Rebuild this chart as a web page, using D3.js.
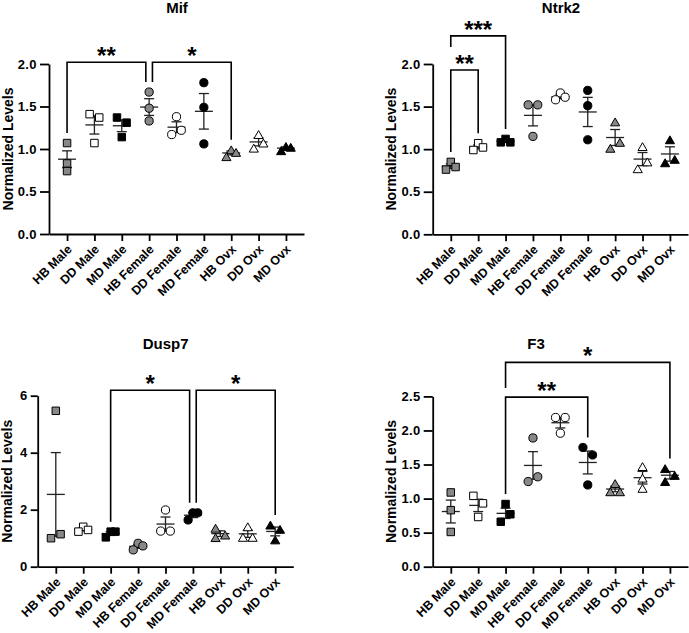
<!DOCTYPE html>
<html>
<head>
<meta charset="utf-8">
<script src="https://cdn.jsdelivr.net/npm/d3@7"></script>
<style>
  body { margin: 0; background: #fff; }
  svg { display: block; }
  text { font-family: "Liberation Sans", Arial, sans-serif; font-weight: bold; fill: #000; }
</style>
</head>
<body>
<div id="chart"></div>
<script>
// groups on the x axis
const groups = ["HB Male", "DD Male", "MD Male", "HB Female", "DD Female", "MD Female", "HB Ovx", "DD Ovx", "MD Ovx"];

// three animals per group, normalized levels
const mifValues = [
  [1.07, 0.83, 0.74], [1.41, 1.37, 1.07], [1.37, 1.31, 1.14],
  [1.67, 1.48, 1.33], [1.38, 1.22, 1.17], [1.78, 1.49, 1.06],
  [0.99, 0.96, 0.91], [1.17, 1.07, 1.01], [1.03, 1.02, 0.98]
];
const ntrk2Values = [
  [0.85, 0.79, 0.76], [1.07, 1.02, 0.99], [1.12, 1.08, 1.08],
  [1.52, 1.52, 1.15], [1.66, 1.61, 1.58], [1.69, 1.51, 1.11],
  [1.32, 1.08, 1.01], [1.03, 0.85, 0.77], [1.11, 0.88, 0.84]
];
const dusp7Values = [
  [5.47, 1.14, 1.00], [1.40, 1.29, 1.23], [1.23, 1.23, 1.03],
  [0.82, 0.73, 0.59], [1.99, 1.25, 1.25], [1.89, 1.89, 1.64],
  [1.35, 1.11, 1.02], [1.40, 1.03, 1.03], [1.46, 1.31, 0.94]
];
const f3Values = [
  [1.09, 0.83, 0.51], [1.04, 0.93, 0.73], [0.92, 0.77, 0.66],
  [1.89, 1.32, 1.25], [2.19, 2.19, 1.96], [1.75, 1.64, 1.20],
  [1.22, 1.10, 1.10], [1.47, 1.30, 1.15], [1.44, 1.34, 1.25]
];

// y tick labels
const tickHalf = [0, 0.5, 1.0, 1.5, 2.0];
const tickDusp7 = [0, 2, 4, 6];
const tickF3 = [0, 0.5, 1.0, 1.5, 2.0, 2.5];

// significance brackets (level in data units)
const mifSig = [
  { from: "HB Male", to: "HB Female", level: 2.02, label: "**" },
  { from: "HB Female", to: "HB Ovx", level: 2.02, label: "*" }
];
const ntrk2Sig = [
  { from: "HB Male", to: "DD Male", level: 1.93, label: "**" },
  { from: "HB Male", to: "MD Male", level: 2.33, label: "***" }
];
const dusp7Sig = [
  { from: "MD Male", to: "MD Female", level: 6.19, label: "*" },
  { from: "MD Female", to: "MD Ovx", level: 6.19, label: "*" }
];
const f3Sig = [
  { from: "MD Male", to: "MD Female", level: 2.49, label: "**" },
  { from: "MD Male", to: "MD Ovx", level: 3.0, label: "*" }
];

// marker style per group
const shapeOf = [d3.symbolSquare, d3.symbolSquare, d3.symbolSquare,
                 d3.symbolCircle, d3.symbolCircle, d3.symbolCircle,
                 d3.symbolTriangle, d3.symbolTriangle, d3.symbolTriangle];
const fillOf = ["#888", "#fff", "#000", "#888", "#fff", "#000", "#888", "#fff", "#000"];

const W = 689, H = 633;
const svg = d3.select("#chart").append("svg").attr("width", W).attr("height", H);

const panels = [
  { title: "Mif", values: mifValues, ticks: tickHalf, fmt: ".1f", sig: mifSig,
    x0: 49, x1: 304, yBottom: 234, yTop: 64, titleX: 177, titleY: 8, labelX: 7.5 },
  { title: "Ntrk2", values: ntrk2Values, ticks: tickHalf, fmt: ".1f", sig: ntrk2Sig,
    x0: 432.7, x1: 688, yBottom: 234.3, yTop: 64, titleX: 561, titleY: 8, labelX: 390.5 },
  { title: "Dusp7", values: dusp7Values, ticks: tickDusp7, fmt: "d", sig: dusp7Sig,
    x0: 37.7, x1: 293.3, yBottom: 566.7, yTop: 395.7, titleX: 165.7, titleY: 343.3, labelX: 6.5 },
  { title: "F3", values: f3Values, ticks: tickF3, fmt: ".1f", sig: f3Sig,
    x0: 432.7, x1: 688, yBottom: 566.7, yTop: 396.4, titleX: 536, titleY: 343.3, labelX: 390.5 }
];

// spread overlapping points sideways, a bit like Prism does
function spread(pys) {
  const step = 4.8, near = 7.5;
  const order = pys.map((p, i) => i).sort((a, b) => pys[a] - pys[b]);
  const clusters = [];
  order.forEach(i => {
    const last = clusters[clusters.length - 1];
    if (last && pys[i] - pys[last[last.length - 1]] < near) last.push(i);
    else clusters.push([i]);
  });
  const off = new Array(pys.length).fill(0);
  clusters.forEach(c => {
    if (c.length === 2) {
      const top = c[0] === order[0];
      off[c[0]] = top ? -step : step;
      off[c[1]] = top ? step : -step;
    } else if (c.length === 3) {
      const span = pys[c[2]] - pys[c[0]];
      const o = span < 9 ? [0, step, -step] : [-step, step, -step];
      c.forEach((i, k) => off[i] = o[k]);
    }
  });
  return off;
}

panels.forEach(p => {
  const maxTick = p.ticks[p.ticks.length - 1];
  const x = d3.scalePoint().domain(groups).range([p.x0, p.x1]).padding(0.66);
  const y = d3.scaleLinear().domain([0, maxTick]).range([p.yBottom, p.yTop]);
  const g = svg.append("g");

  // title
  g.append("text").attr("x", p.titleX).attr("y", p.titleY).attr("dy", "0.36em")
    .attr("text-anchor", "middle").style("font-size", "15px").text(p.title);

  // y label
  g.append("text")
    .attr("transform", `translate(${p.labelX},${(p.yBottom + p.yTop) / 2}) rotate(-90)`)
    .attr("dy", "0.36em").attr("text-anchor", "middle").style("font-size", "14px")
    .text("Normalized Levels");

  // axes
  const ya = g.append("g").attr("transform", `translate(${p.x0},0)`)
    .call(d3.axisLeft(y).tickValues(p.ticks).tickFormat(d3.format(p.fmt))
      .tickSize(p.fmt === "d" ? 7 : 9).tickSizeOuter(0).tickPadding(3));
  const xa = g.append("g").attr("transform", `translate(0,${p.yBottom})`)
    .call(d3.axisBottom(x).tickSize(7).tickSizeOuter(0));
  [ya, xa].forEach(a => {
    a.selectAll("path, line").attr("stroke", "#000").attr("stroke-width", 1.8);
    a.selectAll("text").style("font-size", "13px").attr("fill", "#000")
      .style("font-family", "'Liberation Sans', Arial, sans-serif");
  });
  ya.selectAll(".tick text").style("letter-spacing", "0.4px");
  xa.selectAll(".tick text")
    .style("font-size", "12.5px")
    .attr("x", 0).attr("y", 0).attr("dy", "0.35em")
    .attr("text-anchor", "end")
    .attr("transform", "translate(2,13) rotate(-45)");

  // mean and SEM
  const bars = g.append("g");
  p.values.forEach((vals, gi) => {
    const cx = x(groups[gi]);
    const m = d3.mean(vals);
    const sem = d3.deviation(vals) / Math.sqrt(vals.length);
    const st = l => l.attr("stroke", "#222").attr("stroke-width", 1.3);
    st(bars.append("line").attr("x1", cx - 9).attr("x2", cx + 9).attr("y1", y(m)).attr("y2", y(m)));
    st(bars.append("line").attr("x1", cx).attr("x2", cx).attr("y1", y(m - sem)).attr("y2", y(m + sem)));
    [m - sem, m + sem].forEach(v =>
      st(bars.append("line").attr("x1", cx - 5).attr("x2", cx + 5).attr("y1", y(v)).attr("y2", y(v))));
  });

  // points
  const pts = g.append("g");
  p.values.forEach((vals, gi) => {
    const pys = vals.map(v => y(v));
    const off = spread(pys);
    const type = shapeOf[gi];
    const size = type === d3.symbolTriangle ? 36 : type === d3.symbolCircle ? 53 : 56;
    const shift = type === d3.symbolTriangle ? Math.sqrt(size / (3 * Math.sqrt(3))) / 2 : 0;
    pts.selectAll(null).data(vals).enter().append("path")
      .attr("d", d3.symbol().type(type).size(size))
      .attr("transform", (d, i) => `translate(${x(groups[gi]) + off[i]},${y(d) + shift})`)
      .attr("fill", fillOf[gi]).attr("stroke", "#000").attr("stroke-width", 1);
  });

  // significance brackets
  const groupTop = name => y(d3.max(p.values[groups.indexOf(name)]));
  const sig = p.sig.map(s => Object.assign({}, s, { top: y(s.level) }));
  sig.forEach(s => {
    let xa1 = x(s.from), xa2 = x(s.to);
    if (sig.some(o => o !== s && o.from === s.to)) xa2 -= 3.3;
    if (sig.some(o => o !== s && o.to === s.from)) xa1 += 3.3;
    s.x1 = xa1; s.x2 = xa2; s.mid = (xa1 + xa2) / 2; s.labelY = s.top - 11;
  });
  sig.forEach(s => {
    const legEnd = (name, xe) => {
      let b = groupTop(name) - 10;
      sig.forEach(o => {
        if (o === s || o.top <= s.top) return;
        if (o.from === name || o.to === name) {
          b = Math.min(b, o.top - 9);
          if (Math.abs(o.mid - xe) < 20) b = Math.min(b, o.labelY - 12);
        }
      });
      return b;
    };
    const b1 = legEnd(s.from, s.x1), b2 = legEnd(s.to, s.x2);
    g.append("path")
      .attr("d", `M${s.x1},${b1}V${s.top}H${s.x2}V${b2}`)
      .attr("fill", "none").attr("stroke", "#000").attr("stroke-width", 1.6);
    g.append("text").attr("x", s.mid).attr("y", s.labelY + 13)
      .attr("text-anchor", "middle").style("font-size", "24px").text(s.label);
  });
});
</script>
</body>
</html>
